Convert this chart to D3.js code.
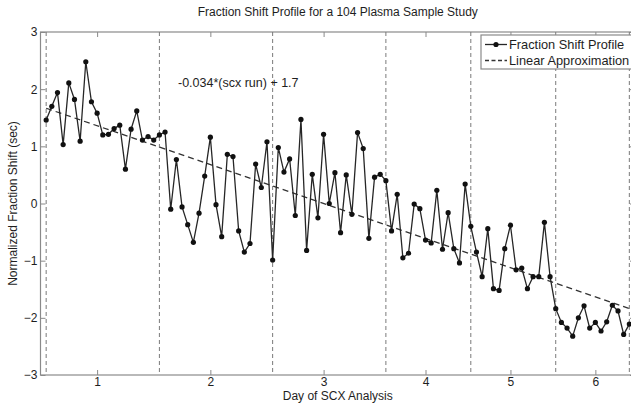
<!DOCTYPE html>
<html>
<head>
<meta charset="utf-8">
<script src="https://cdn.jsdelivr.net/npm/d3@7"></script>
<style>
  html, body { margin: 0; padding: 0; background: #fff; }
  text { font-family: "Liberation Sans", Arial, Helvetica, sans-serif; }
</style>
</head>
<body>
<svg id="chart"></svg>
<script>
// normalized fraction shift per SCX run (run 1..104)
const shift = [
  1.46, 1.70, 1.94, 1.03, 2.11, 1.82, 1.09, 2.48, 1.78, 1.58,
  1.20, 1.21, 1.31, 1.37, 0.60, 1.30, 1.62, 1.11, 1.17, 1.11,
  1.20, 1.25, -0.10, 0.77, -0.06, -0.37, -0.68, -0.17, 0.48, 1.16,
  -0.02, -0.58, 0.86, 0.82, -0.48, -0.85, -0.70, 0.69, 0.28, 1.08,
  -0.99, 0.98, 0.55, 0.78, -0.21, 1.47, -0.82, 0.51, -0.25, 1.21,
  0.00, 0.54, -0.51, 0.50, -0.19, 1.24, 0.96, -0.61, 0.46, 0.51,
  0.40, -0.48, 0.16, -0.95, -0.87, -0.01, -0.09, -0.64, -0.69, 0.23,
  -0.80, -0.16, -0.79, -1.04, 0.34, -0.40, -0.85, -1.28, -0.44, -1.49,
  -1.52, -0.79, -0.38, -1.16, -1.13, -1.49, -1.28, -1.28, -0.33, -1.28,
  -1.84, -2.08, -2.18, -2.32, -2.00, -1.79, -2.18, -2.08, -2.23, -2.07,
  -1.78, -1.88, -2.29, -2.11
];
const runs = shift.map((d, i) => i + 1);

// day boundaries (run numbers) and day tick positions
const dayStarts = [1, 21, 41, 61, 76, 91, 104];
const dayTicks = [10, 30, 50, 68, 83, 98];
const dayLabels = ['1', '2', '3', '4', '5', '6'];
const yTicks = [-3, -2, -1, 0, 1, 2, 3];

// linear fit printed on the chart
const slope = -0.034;
const intercept = 1.7;

const W = 631, H = 403;
const pLeft = 40.5, pRight = 635, pTop = 32, pBottom = 375;
const axisColor = '#8a8a8a';
const textColor = '#1e1e1e';

const svg = d3.select('#chart').attr('width', W).attr('height', H);

const x = d3.scaleLinear().domain([0, 105]).range([pLeft, pRight]);
const y = d3.scaleLinear().domain([-3, 3]).range([pBottom, pTop]);

svg.append('defs').append('clipPath').attr('id', 'plot')
  .append('rect')
  .attr('x', pLeft).attr('y', pTop)
  .attr('width', pRight - pLeft).attr('height', pBottom - pTop);

// axes, MATLAB style: ticks point inward
function styleAxis(g) {
  g.select('.domain').remove();
  g.selectAll('line').attr('stroke', axisColor);
  g.selectAll('text').attr('fill', textColor).style('font-size', '12px');
}

svg.append('g')
  .attr('transform', `translate(0,${pBottom})`)
  .call(d3.axisBottom(x).tickValues(dayTicks)
    .tickFormat((d, i) => dayLabels[i]).tickSizeInner(-5).tickSizeOuter(0).tickPadding(2))
  .call(styleAxis);

svg.append('g')
  .attr('transform', `translate(0,${pTop})`)
  .call(d3.axisTop(x).tickValues(dayTicks).tickFormat('').tickSizeInner(-5).tickSizeOuter(0))
  .call(styleAxis);

svg.append('g')
  .attr('transform', `translate(${pLeft},0)`)
  .call(d3.axisLeft(y).tickValues(yTicks).tickFormat(d3.format('d'))
    .tickSizeInner(-5).tickSizeOuter(0).tickPadding(3))
  .call(styleAxis);

svg.append('g')
  .attr('transform', `translate(${pRight},0)`)
  .call(d3.axisRight(y).tickValues(yTicks).tickFormat('').tickSizeInner(-5).tickSizeOuter(0))
  .call(styleAxis);

// frame
svg.append('rect')
  .attr('x', pLeft).attr('y', pTop)
  .attr('width', pRight - pLeft).attr('height', pBottom - pTop)
  .attr('fill', 'none')
  .attr('stroke', axisColor)
  .attr('stroke-width', 1.2);

const plot = svg.append('g').attr('clip-path', 'url(#plot)');

// day separators
plot.selectAll('.day')
  .data(dayStarts)
  .enter()
  .append('line')
  .attr('x1', d => x(d)).attr('x2', d => x(d))
  .attr('y1', pTop).attr('y2', pBottom)
  .attr('stroke', '#7a7a7a')
  .attr('stroke-width', 1)
  .attr('stroke-dasharray', '4,3');

// linear approximation
const fitRuns = [runs[0], runs[runs.length - 1]];
plot.append('path')
  .datum(fitRuns)
  .attr('d', d3.line().x(d => x(d)).y(d => y(slope * d + intercept)))
  .attr('fill', 'none')
  .attr('stroke', '#333')
  .attr('stroke-width', 1.3)
  .attr('stroke-dasharray', '6,4');

// profile
plot.append('path')
  .datum(shift)
  .attr('d', d3.line().x((d, i) => x(runs[i])).y(d => y(d)))
  .attr('fill', 'none')
  .attr('stroke', '#262626')
  .attr('stroke-width', 1.3);

plot.selectAll('.pt')
  .data(shift)
  .enter()
  .append('circle')
  .attr('cx', (d, i) => x(runs[i]))
  .attr('cy', d => y(d))
  .attr('r', 2.6)
  .attr('fill', '#111');

// equation label
svg.append('text')
  .attr('x', 178).attr('y', 87)
  .attr('fill', textColor)
  .style('font-size', '12.5px')
  .text('-0.034*(scx run) + 1.7');

// title and axis labels
svg.append('text')
  .attr('x', (pLeft + pRight) / 2).attr('y', 16)
  .attr('text-anchor', 'middle')
  .attr('fill', textColor)
  .style('font-size', '12px')
  .text('Fraction Shift Profile for a 104 Plasma Sample Study');

svg.append('text')
  .attr('x', (pLeft + pRight) / 2).attr('y', 399.5)
  .attr('text-anchor', 'middle')
  .attr('fill', textColor)
  .style('font-size', '12px')
  .text('Day of SCX Analysis');

svg.append('text')
  .attr('transform', `translate(17,${(pTop + pBottom) / 2}) rotate(-90)`)
  .attr('text-anchor', 'middle')
  .attr('fill', textColor)
  .style('font-size', '12px')
  .text('Normalized Fraction Shift (sec)');

// legend
const leg = svg.append('g');
leg.append('rect')
  .attr('x', 481).attr('y', 35)
  .attr('width', 170).attr('height', 34)
  .attr('fill', '#fff')
  .attr('stroke', axisColor)
  .attr('stroke-width', 1.2);

leg.append('line')
  .attr('x1', 485).attr('x2', 507).attr('y1', 44.5).attr('y2', 44.5)
  .attr('stroke', '#262626').attr('stroke-width', 1.3);
leg.append('circle')
  .attr('cx', 496).attr('cy', 44.5).attr('r', 2.6).attr('fill', '#111');
leg.append('text')
  .attr('x', 509).attr('y', 44.5).attr('dy', '0.35em')
  .attr('fill', textColor).style('font-size', '12.8px')
  .text('Fraction Shift Profile');

leg.append('line')
  .attr('x1', 485).attr('x2', 507).attr('y1', 60.5).attr('y2', 60.5)
  .attr('stroke', '#333').attr('stroke-width', 1.3)
  .attr('stroke-dasharray', '4,2.5');
leg.append('text')
  .attr('x', 509).attr('y', 60.5).attr('dy', '0.35em')
  .attr('fill', textColor).style('font-size', '12.8px')
  .text('Linear Approximation');
</script>
</body>
</html>
